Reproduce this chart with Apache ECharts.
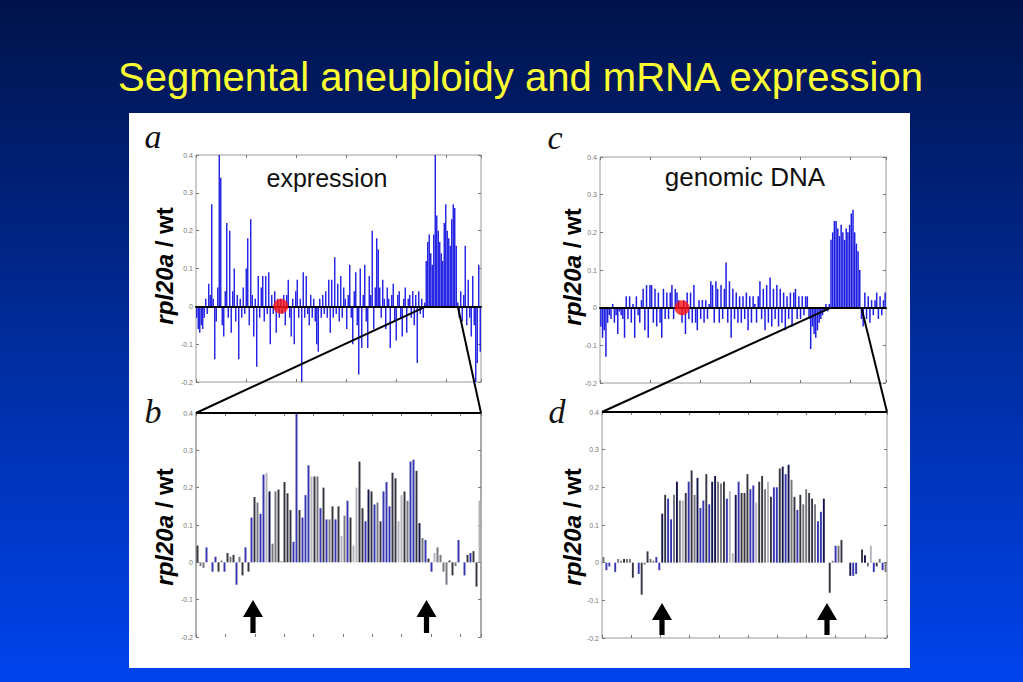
<!DOCTYPE html>
<html><head><meta charset="utf-8">
<script src="https://cdn.jsdelivr.net/npm/echarts@6/dist/echarts.min.js"></script>
<style>
html,body{margin:0;padding:0;}
#wrap{position:relative;width:1023px;height:682px;background:linear-gradient(to bottom,#00134a 0%,#0044ee 100%);overflow:hidden;}
#panel{position:absolute;left:129px;top:113px;width:781px;height:555px;background:#fff;}
#chart{position:absolute;left:0;top:0;width:1023px;height:682px;}
</style></head><body>
<div id="wrap"><div id="panel"></div><div id="chart"></div></div>
<script>
// ---- data ----
const valsA = [
-0.03,-0.06,-0.07,-0.05,-0.06,-0.03,0.02,-0.02,0.06,0.03,
0.27,0.02,-0.14,-0.04,0.05,0.4,0.34,-0.05,-0.08,0.04,
0.22,-0.03,0.2,-0.07,0.04,0.1,-0.04,0.03,-0.14,0.02,
-0.03,0.05,-0.02,0.1,0.18,-0.05,0.23,0.03,-0.08,0.02,
-0.16,0.08,-0.03,0.05,0.08,-0.04,0.08,-0.02,0.09,-0.1,
0.03,-0.02,0.04,-0.07,0.02,-0.03,0.02,-0.02,0.03,-0.05,
0.03,0.07,-0.03,-0.08,0.02,-0.1,0.04,0.07,-0.03,0.02,
-0.2,0.09,-0.03,0.08,-0.02,-0.05,0.03,-0.03,0.02,-0.04,
-0.1,-0.12,0.02,-0.03,0.03,-0.02,0.04,-0.03,0.07,-0.07,
0.07,-0.03,0.13,-0.02,0.06,-0.04,0.08,-0.03,0.05,0.02,
-0.06,0.03,0.11,-0.03,-0.1,0.04,0.09,-0.05,-0.18,0.1,
-0.11,0.03,0.11,-0.04,-0.11,0.08,0.03,0.2,-0.06,0.05,
0.18,0.15,0.05,-0.03,0.07,0.02,-0.06,0.05,0.02,-0.11,
0.03,0.06,-0.04,-0.09,0.03,0.04,-0.03,-0.08,0.02,0.05,
-0.07,0.02,0.03,-0.03,0.04,-0.05,0.03,-0.15,0.04,-0.02,
0.02,-0.03,0.01,0.12,0.17,0.19,0.14,0.11,0.19,0.4,
0.24,0.2,0.17,0.14,0.12,0.22,0.27,0.2,0.18,0.16,
0.23,0.27,0.26,0.16,0.01,-0.03,0.04,-0.04,0.03,0.16,
-0.05,0.07,-0.03,-0.08,0.08,-0.05,-0.2,-0.15,0.11,-0.12
];
const valsB = [
0.045,-0.01,-0.015,0.04,0.0,-0.025,0.015,-0.025,0.005,-0.025,
0.025,0.015,0.02,-0.06,0.015,-0.035,0.04,-0.025,0.12,0.175,
0.16,0.13,0.235,0.24,0.19,0.05,0.19,0.195,0.003,0.215,
0.185,0.14,0.055,0.4,0.14,0.12,0.18,0.26,0.23,0.23,
0.23,0.145,0.2,0.115,0.115,0.15,0.115,0.15,0.07,0.125,
0.165,0.12,0.045,0.2,0.27,0.145,0.11,0.195,0.19,0.155,
0.16,0.11,0.19,0.215,0.15,0.24,0.225,0.11,0.18,0.19,
0.165,0.27,0.275,0.245,0.105,0.065,0.06,0.01,-0.025,0.025,
0.04,0.02,-0.025,-0.06,0.005,-0.035,-0.01,0.06,0.0,-0.035,
0.02,0.025,0.03,-0.065,0.165
];
const valsC = [
-0.05,-0.08,-0.06,-0.13,-0.04,-0.02,-0.03,0.01,-0.04,-0.02,
-0.07,-0.01,-0.02,-0.03,-0.08,0.03,-0.03,0.03,-0.04,0.01,
-0.08,0.03,-0.02,-0.04,0.02,0.05,-0.06,0.06,-0.08,0.06,
0.06,-0.04,0.05,-0.05,0.04,-0.04,-0.08,0.05,-0.03,0.04,
-0.03,0.04,0.06,-0.03,0.05,0.04,0.02,0,-0.04,0.02,
-0.07,0.04,-0.03,0.04,-0.04,0.06,-0.04,-0.06,0.02,-0.03,
0.02,-0.04,0.02,-0.03,0.01,0.07,0.06,-0.04,0.07,0.05,
-0.04,0.06,-0.03,0.05,0.12,-0.04,0.07,-0.08,0.05,-0.03,
0.04,-0.04,0.03,-0.04,0.03,-0.03,0.04,-0.06,0.03,-0.04,
0.03,0.01,-0.04,0.03,0.07,-0.03,0.05,-0.06,0.06,-0.04,
0.08,-0.05,0.05,-0.03,0.06,-0.05,0.05,-0.04,0.04,-0.06,
0.03,-0.03,0.04,-0.05,0.04,0.05,-0.03,0.03,-0.03,0.03,
-0.02,0.03,0.03,-0.03,-0.11,-0.05,-0.07,-0.08,-0.06,-0.04,
-0.03,-0.02,-0.01,0.01,-0.01,0.01,
0.18,0.2,0.23,0.23,0.21,0.19,0.22,0.2,0.18,0.21,0.2,0.22,0.25,0.26,0.2,0.17,0.15,0.1,
-0.03,-0.05,0.04,-0.03,0.03,-0.04,0.02,-0.02,0.02,0.04,-0.03,0.03,-0.02,0.02,0.04
];
const valsD = [
0.015,-0.02,-0.01,0.0,-0.025,0.01,0.005,0.01,0.01,0.01,
-0.04,0.0,-0.03,-0.085,-0.005,0.03,0.01,0.005,0.015,-0.02,
0.13,0.18,0.17,0.115,0.18,0.215,0.165,0.165,0.185,0.215,
0.245,0.18,0.225,0.145,0.165,0.235,0.155,0.215,0.23,0.215,
0.21,0.215,0.17,0.19,0.025,0.18,0.215,0.185,0.185,0.235,
0.195,0.205,0.16,0.215,0.23,0.195,0.215,0.175,0.2,0.2,
0.25,0.255,0.235,0.26,0.22,0.175,0.14,0.18,0.155,0.195,
0.185,0.17,0.155,0.11,0.135,0.17,0.0,-0.08,0.005,0.045,
0.045,0.06,0.0,0.0,-0.035,-0.035,-0.03,0.0,0.035,0.02,
-0.01,0.045,-0.025,-0.01,0.01,-0.02,-0.025
];
const dotA = [56, 0];
const dotC = [48, 0];
const zoomA = [153, 174];   // categories of panel a enlarged in panel b
const zoomC = [136, 154];   // categories of panel c enlarged in panel d
const yTicks = [-0.2, -0.1, 0, 0.1, 0.2, 0.3, 0.4];

// ---- styles ----
const shadesB = 'dggbgbbdgb'+'dgdbgdbdbd'+'gbblnggdgd'+'ddbbdbbbld'+'gbdbgdbdlg'+'bdllddbndb'+'gdbbbddlld'+'gbbdngbdbl'+'ggggddgbgb'+'dbddl';
const shadesD = 'gbbgbggdgg'+'dgbdgdggbb'+'ndbbgngldb'+'dgnbbdbnng'+'gdbllnbddd'+'bblddgldbb'+'dnbngdbdgg'+'ddgbbngdgb'+'gdggnbbgdn'+'glbdgbg';
const shadeColor = {b:'#3636b0', n:'#15154e', d:'#363640', g:'#75757e', l:'#b4b4bc'};
const FONT = '"Liberation Sans", Arial, sans-serif';

const grids = [
  {left:196, top:155, width:285, height:227, show:true, borderColor:'#9a9a9a', borderWidth:1},
  {left:196, top:413, width:285, height:224, show:false},
  {left:600, top:157, width:286, height:226, show:true, borderColor:'#9a9a9a', borderWidth:1},
  {left:602, top:412, width:285, height:226, show:true, borderColor:'#9a9a9a', borderWidth:1}
];
const counts = [valsA.length, valsB.length, valsC.length, valsD.length];
const tickMax = [5.7, 9.7, 5.72, 9.76];

const xAxes = [], yAxes = [];
grids.forEach((g, k) => {
  const zeroLine = (k === 0 || k === 2);
  xAxes.push({type:'category', gridIndex:k, position:'bottom',
    data: Array.from({length:counts[k]}, (_, i) => String(i)),
    axisLine:{show:zeroLine, onZero:true, lineStyle:{color:'#000', width:2}},
    axisTick:{show:false}, axisLabel:{show:false}, splitLine:{show:false}, z:6});
  ['top','bottom'].forEach(pos => xAxes.push({type:'value', gridIndex:k, position:pos,
    min:0, max:tickMax[k], interval:1,
    axisLine:{show:false, onZero:false},
    axisTick:{show:true, inside:true, length:3, lineStyle:{color:'#777'}},
    axisLabel:{show:false}, splitLine:{show:false}}));
  yAxes.push({type:'value', gridIndex:k, position:'left', min:-0.2, max:0.4, interval:0.1,
    axisLine:{show:k===1, onZero:false, lineStyle:{color:'#999', width:1.5}},
    axisTick:{show:true, inside:true, length:3, lineStyle:{color:'#777'}},
    axisLabel:{show:true, fontSize:7, color:'#777', margin:3, fontFamily:FONT,
      formatter: v => Math.abs(v) < 1e-9 ? '0' : v.toFixed(1)},
    splitLine:{show:false}});
  yAxes.push({type:'value', gridIndex:k, position:'right', min:-0.2, max:0.4, interval:0.1,
    axisLine:{show:k===1, onZero:false, lineStyle:{color:'#aaa', width:2}},
    axisTick:{show:true, inside:true, length:3, lineStyle:{color:'#777'}},
    axisLabel:{show:false}, splitLine:{show:false}});
});

const shaded = (vals, shades) => vals.map((v, i) => ({value:v, itemStyle:{color:shadeColor[shades[i]] || '#3636b0'}}));

const series = [
  {type:'bar', xAxisIndex:0, yAxisIndex:0, data:valsA, barWidth:1.4, itemStyle:{color:'#1e1ee2'}, z:3},
  {type:'scatter', xAxisIndex:0, yAxisIndex:0, data:[dotA], symbolSize:15, itemStyle:{color:'#ff1010'}, z:8},
  {type:'bar', xAxisIndex:3, yAxisIndex:2, data:shaded(valsB, shadesB), barCategoryGap:'35%', z:3},
  {type:'bar', xAxisIndex:6, yAxisIndex:4, data:valsC, barWidth:1.5, itemStyle:{color:'#1e1ee2'}, z:3},
  {type:'scatter', xAxisIndex:6, yAxisIndex:4, data:[dotC], symbolSize:15, itemStyle:{color:'#ff1010'}, z:8},
  {type:'bar', xAxisIndex:9, yAxisIndex:6, data:shaded(valsD, shadesD), barCategoryGap:'35%', z:3}
];

const chart = echarts.init(document.getElementById('chart'), null, {renderer:'svg'});
chart.setOption({
  animation:false,
  backgroundColor:'transparent',
  title:{text:'Segmental aneuploidy and mRNA expression', left:113, top:52,
    textStyle:{color:'#ffff33', fontSize:40, fontWeight:'normal', fontFamily:FONT}},
  grid: grids, xAxis: xAxes, yAxis: yAxes, series: series
});

// ---- annotations ----
const pA1 = chart.convertToPixel({xAxisIndex:0, yAxisIndex:0}, [zoomA[0], 0]);
const pA2 = chart.convertToPixel({xAxisIndex:0, yAxisIndex:0}, [zoomA[1], 0]);
const pC1 = chart.convertToPixel({xAxisIndex:6, yAxisIndex:4}, [zoomC[0], 0]);
const pC2 = chart.convertToPixel({xAxisIndex:6, yAxisIndex:4}, [zoomC[1], 0]);
const gB = grids[1], gD = grids[3];
const blk = {stroke:'#000', lineWidth:2};
function line(x1,y1,x2,y2){ return {type:'line', z:20, shape:{x1,y1,x2,y2}, style:blk}; }
function arrow(cx, yt, yb){
  return {type:'polygon', z:20, shape:{points:[[cx,yt],[cx+10,yt+17],[cx+2.6,yt+17],[cx+2.6,yb],[cx-2.6,yb],[cx-2.6,yt+17],[cx-10,yt+17]]}, style:{fill:'#000'}};
}
function letter(t, x, y){
  return {type:'text', z:20, x, y, style:{text:t, fill:'#111', font:'italic 34px "Liberation Serif", "Times New Roman", serif', align:'center', verticalAlign:'middle'}};
}
function ylab(x, y){
  return {type:'text', z:20, x, y, rotation:Math.PI/2, style:{
    text:'{i|rpl20a}{n| / wt}', align:'center', verticalAlign:'middle', fill:'#000',
    rich:{i:{fontStyle:'italic', fontWeight:'bold', fontSize:24, fontFamily:FONT, fill:'#000'},
          n:{fontWeight:'bold', fontSize:24, fontFamily:FONT, fill:'#000'}}}};
}
chart.setOption({graphic:[
  line(gB.left, gB.top, pA1[0], pA1[1]),
  line(gB.left+gB.width, gB.top, pA2[0], pA2[1]),
  line(gB.left, gB.top, gB.left+gB.width, gB.top),
  line(gD.left, gD.top, pC1[0], pC1[1]),
  line(gD.left+gD.width, gD.top, pC2[0], pC2[1]),
  line(gD.left, gD.top, gD.left+gD.width, gD.top),
  arrow(253, 600, 633), arrow(426.5, 600, 633),
  arrow(662, 603, 635), arrow(827, 603, 635),
  letter('a', 153, 136), letter('b', 153, 411), letter('c', 555, 137), letter('d', 557, 411),
  ylab(164, 266), ylab(164, 527), ylab(572, 267), ylab(572, 527),
  {type:'text', z:20, x:327, y:178, style:{text:'expression', fill:'#111', font:'25px '+FONT, align:'center', verticalAlign:'middle'}},
  {type:'text', z:20, x:745, y:177, style:{text:'genomic DNA', fill:'#111', font:'26px '+FONT, align:'center', verticalAlign:'middle'}}
]});
</script>
</body></html>
